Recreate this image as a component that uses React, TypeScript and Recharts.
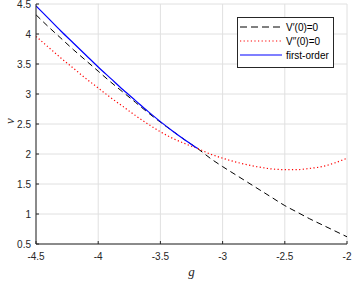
import { LineChart, Line, XAxis, YAxis, CartesianGrid } from 'recharts'

// g grid the curves were read at
const gValues = [
  -4.5, -4.4, -4.3, -4.2, -4.1, -4.0, -3.9, -3.8, -3.7, -3.6, -3.5, -3.4, -3.3,
  -3.2, -3.1, -3.0, -2.9, -2.8, -2.7, -2.6, -2.5, -2.4, -2.3, -2.2, -2.1, -2.0,
]

// V'(0)=0 (black dashed)
const vPrimeZero = [
  4.32, 4.12, 3.93, 3.74, 3.56, 3.38, 3.2, 3.03, 2.86, 2.69, 2.53, 2.38, 2.23,
  2.09, 1.93, 1.79, 1.66, 1.53, 1.4, 1.27, 1.14, 1.03, 0.92, 0.82, 0.72, 0.62,
]

// V''(0)=0 (red dotted)
const vDoublePrimeZero = [
  3.96, 3.78, 3.6, 3.43, 3.26, 3.1, 2.94, 2.79, 2.64, 2.5, 2.37, 2.26, 2.17,
  2.09, 2.0, 1.93, 1.87, 1.82, 1.78, 1.75, 1.74, 1.74, 1.76, 1.79, 1.85, 1.93,
]

// first-order (blue), only up to g = -3.2
const firstOrder = [
  4.47, 4.26, 4.05, 3.85, 3.65, 3.45, 3.26, 3.07, 2.89, 2.71, 2.54, 2.38, 2.23,
  2.09,
]

const xTicks = [-4.5, -4, -3.5, -3, -2.5, -2]
const yTicks = [0.5, 1, 1.5, 2, 2.5, 3, 3.5, 4, 4.5]

const data = gValues.map((g, i) => ({
  g,
  vPrime: vPrimeZero[i],
  vDoublePrime: vDoublePrimeZero[i],
  first: i < firstOrder.length ? firstOrder[i] : null,
}))

const axisColor = '#262626'
const font = '"Liberation Sans", Arial, sans-serif'
const tickStyle = { fill: axisColor, fontSize: 10, fontFamily: font }
const labelStyle = { fill: axisColor, fontSize: 13, fontStyle: 'italic', fontFamily: '"Liberation Serif", serif' }

const legendItems = [
  { label: 'V\u2032(0)=0', color: '#000', dash: '7 4', width: 1 },
  { label: 'V\u2032\u2032(0)=0', color: '#ff0000', dash: '1.2 2.4', width: 1.2 },
  { label: 'first-order', color: '#0000ff', dash: undefined, width: 1.2 },
]

export default function App() {
  return (
    <div style={{ position: 'absolute', left: 0, top: 0, width: 353, height: 281, background: '#fff' }}>
      <LineChart width={353} height={281} data={data} margin={{ top: 4, right: 6, left: 0, bottom: 0 }}>
        <CartesianGrid stroke="#e0e0e0" strokeWidth={1} />
        <XAxis
          dataKey="g"
          type="number"
          domain={[-4.5, -2]}
          ticks={xTicks}
          interval={0}
          allowDataOverflow
          height={37}
          tickSize={-3}
          tickMargin={12}
          axisLine={{ stroke: axisColor }}
          tickLine={{ stroke: axisColor }}
          tick={tickStyle}
          label={{ value: 'g', position: 'insideBottom', offset: 5, ...labelStyle }}
        />
        <XAxis
          xAxisId="top"
          orientation="top"
          type="number"
          domain={[-4.5, -2]}
          ticks={xTicks}
          interval={0}
          allowDataOverflow
          height={0}
          tickSize={-3}
          tick={false}
          axisLine={{ stroke: axisColor }}
          tickLine={{ stroke: axisColor }}
        />
        <YAxis
          type="number"
          domain={[0.5, 4.5]}
          ticks={yTicks}
          interval={0}
          allowDataOverflow
          width={36}
          tickSize={-3}
          tickMargin={8}
          axisLine={{ stroke: axisColor }}
          tickLine={{ stroke: axisColor }}
          tick={tickStyle}
          label={{ value: 'ν', angle: -90, position: 'insideLeft', offset: 9, ...labelStyle }}
        />
        <YAxis
          yAxisId="right"
          orientation="right"
          type="number"
          domain={[0.5, 4.5]}
          ticks={yTicks}
          interval={0}
          allowDataOverflow
          width={0}
          tickSize={-3}
          tick={false}
          axisLine={{ stroke: axisColor }}
          tickLine={{ stroke: axisColor }}
        />
        <Line type="monotone" dataKey="vPrime" stroke="#000" strokeWidth={1} strokeDasharray="6 4" dot={false} isAnimationActive={false} />
        <Line type="monotone" dataKey="vDoublePrime" stroke="#ff0000" strokeWidth={1.2} strokeDasharray="1.2 2.4" dot={false} isAnimationActive={false} />
        <Line type="monotone" dataKey="first" stroke="#0000ff" strokeWidth={1.2} dot={false} isAnimationActive={false} />
      </LineChart>
      <div
        style={{
          position: 'absolute',
          left: 237,
          top: 17,
          width: 95,
          height: 45,
          border: '1px solid ' + axisColor,
          background: '#fff',
          fontFamily: font,
          fontSize: 10,
          color: '#000',
          padding: '2px 0',
          boxSizing: 'content-box',
        }}
      >
        {legendItems.map((it) => (
          <div key={it.label} style={{ display: 'flex', alignItems: 'center', height: 14 }}>
            <svg width={48} height={14}>
              <line x1={2} x2={44} y1={7} y2={7} stroke={it.color} strokeWidth={it.width} strokeDasharray={it.dash} />
            </svg>
            <span>{it.label}</span>
          </div>
        ))}
      </div>
    </div>
  )
}
